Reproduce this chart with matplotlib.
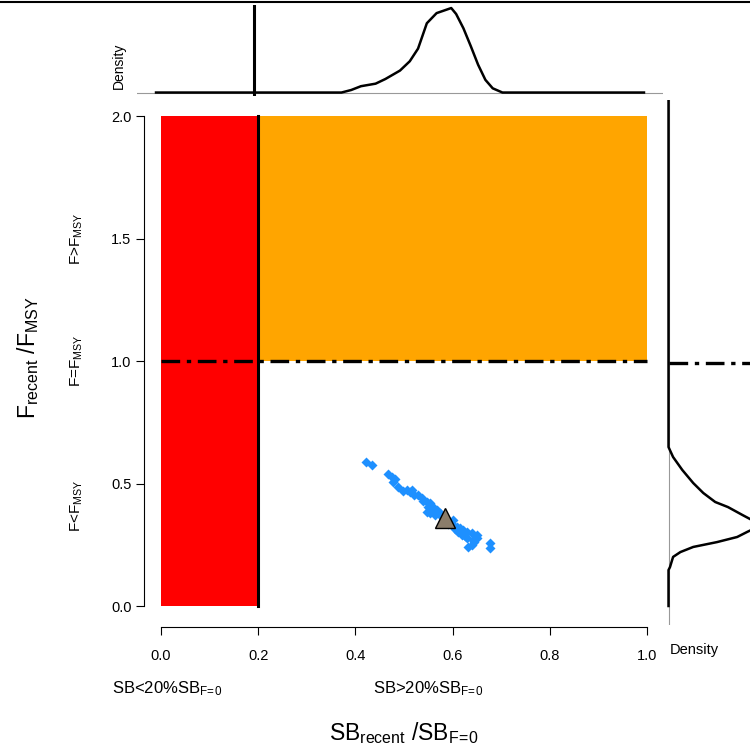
import numpy as np
import matplotlib.pyplot as plt
from matplotlib.lines import Line2D

plt.rcParams['font.family'] = ['Liberation Sans', 'DejaVu Sans']
plt.rcParams['mathtext.fontset'] = 'custom'
plt.rcParams['mathtext.rm'] = 'Liberation Sans'
plt.rcParams['mathtext.it'] = 'Liberation Sans:italic'

# scatter of SB/SB_F=0 vs F/F_MSY
sb_vals = [0.422, 0.434, 0.467, 0.475, 0.481, 0.477, 0.488, 0.506, 0.512, 0.516,
           0.529, 0.537, 0.547, 0.553, 0.549, 0.560, 0.568, 0.547, 0.553, 0.564,
           0.574, 0.601, 0.595, 0.601, 0.609, 0.615, 0.621, 0.630, 0.640, 0.650,
           0.611, 0.619, 0.630, 0.642, 0.650, 0.632, 0.640, 0.677, 0.677, 0.580,
           0.590, 0.585, 0.540, 0.520, 0.498, 0.605, 0.625, 0.645, 0.560, 0.575]
f_vals = [0.588, 0.576, 0.539, 0.527, 0.518, 0.506, 0.486, 0.473, 0.465, 0.473,
          0.453, 0.441, 0.424, 0.420, 0.404, 0.404, 0.392, 0.384, 0.380, 0.371,
          0.371, 0.351, 0.343, 0.331, 0.322, 0.318, 0.310, 0.302, 0.298, 0.290,
          0.302, 0.290, 0.278, 0.269, 0.278, 0.241, 0.249, 0.257, 0.237, 0.345,
          0.335, 0.352, 0.430, 0.455, 0.470, 0.315, 0.285, 0.262, 0.395, 0.380]
sb_recent = 0.584
f_recent = 0.359

# marginal densities (scaled to peak = 1)
top_x = [0, 0.38, 0.40, 0.42, 0.45, 0.47, 0.50, 0.52, 0.537, 0.555, 0.575, 0.59,
         0.605, 0.615, 0.63, 0.645, 0.66, 0.675, 0.69, 0.71, 1.0]
top_h = [0, 0, 0.03, 0.075, 0.105, 0.16, 0.26, 0.37, 0.52, 0.82, 0.94, 0.97,
         1.0, 0.93, 0.76, 0.55, 0.33, 0.15, 0.05, 0, 0]
right_f = [0.0, 0.148, 0.160, 0.202, 0.222, 0.243, 0.263, 0.284, 0.305, 0.330,
           0.342, 0.374, 0.407, 0.428, 0.465, 0.506, 0.560, 0.613, 0.654, 2.1]
right_h = [0, 0, 0.016, 0.05, 0.13, 0.27, 0.53, 0.75, 0.86, 1.0,
           0.97, 0.81, 0.65, 0.51, 0.38, 0.27, 0.15, 0.05, 0, 0]

W, H = 750, 749
F0 = r'\mathrm{F}\!=\!\mathrm{0}'


def box(x0, y0, x1, y1):
    return [x0 / W, 1 - y1 / H, (x1 - x0) / W, (y1 - y0) / H]


fig = plt.figure(figsize=(7.5, 7.49), dpi=100)

# main panel
ax = fig.add_axes(box(144, 96, 665, 627))
ax.set_xlim((144 - 161) / 486, (665 - 161) / 486)
ax.set_ylim((606 - 627) / 245, (606 - 96) / 245)
ax.fill_between([0, 0.2], 0, 2, color='#FF0000', lw=0)
ax.fill_between([0.2, 1.0], 1, 2, color='#FFA500', lw=0)
ax.plot([0.2, 0.2], [0, 2], color='k', lw=2.2)
ax.plot([0, 1], [1, 1], color='k', lw=2.4, dashes=(5.6, 2, 1.3, 2))
ax.plot(sb_vals, f_vals, 'D', color='#1E90FF', ms=5, mec='none')
ax.plot(sb_recent, f_recent, '^', color='#8B7D6B', ms=14, mec='k', mew=1)
for s in ['top', 'right']:
    ax.spines[s].set_visible(False)
ax.spines['left'].set_bounds(0, 2)
ax.spines['bottom'].set_bounds(0, 1)
ax.set_xticks([0, 0.2, 0.4, 0.6, 0.8, 1.0])
ax.set_yticks([0, 0.5, 1.0, 1.5, 2.0])
ax.set_xticklabels(['0.0', '0.2', '0.4', '0.6', '0.8', '1.0'])
ax.set_yticklabels(['0.0', '0.5', '1.0', '1.5', '2.0'])
ax.tick_params(axis='x', direction='out', length=6, pad=10, labelsize=10.5)
ax.tick_params(axis='y', direction='out', length=6, pad=3, labelsize=10.5)

tr = ax.get_yaxis_transform()
xlab = (77 - 144) / 521
ax.text(xlab, 1.5, r'F>F$_{\mathrm{MSY}}$', rotation=90, ha='center', va='center',
        fontsize=11, transform=tr)
ax.text(xlab, 1.0, r'F=F$_{\mathrm{MSY}}$', rotation=90, ha='center', va='center',
        fontsize=11, transform=tr)
ax.text(xlab, 0.41, r'F<F$_{\mathrm{MSY}}$', rotation=90, ha='center', va='center',
        fontsize=11, transform=tr)
fig.text(28 / W, 1 - 358 / H, r'$\mathrm{F_{recent}\ /F_{MSY}}$', rotation=90,
         ha='center', va='center', fontsize=16.5)
fig.text(167 / W, 1 - 689 / H, 'SB<20%SB$_{' + F0 + '}$', ha='center', va='center',
         fontsize=12)
fig.text(428 / W, 1 - 689 / H, 'SB>20%SB$_{' + F0 + '}$', ha='center', va='center',
         fontsize=12)
fig.text(404 / W, 1 - 733 / H, r'$\mathrm{SB_{recent}\ /SB}_{' + F0 + '}$', ha='center',
         va='center', fontsize=16.5)

# top density panel
axt = fig.add_axes(box(137, 5, 663, 96))
axt.set_xlim(-0.039, 1.039)
axt.set_ylim(-0.041, 1.036)
axt.axhline(0, color='#999999', lw=0.8)
axt.plot(top_x, top_h, color='k', lw=1.8)
axt.axvline(0.2, color='k', lw=2.2)
axt.axis('off')
fig.text(119 / W, 1 - 66 / H, 'Density', rotation=90, ha='center', va='center',
         fontsize=10)

# right density panel
axr = fig.add_axes(box(660, 100, 750, 625))
axr.set_xlim(-0.093, 0.89)
axr.set_ylim((606 - 625) / 243, (606 - 100) / 243)
axr.axvline(0, color='#999999', lw=0.8)
axr.plot(right_h, right_f, color='k', lw=1.8)
axr.plot([0, 0.89], [1, 1], color='k', lw=2.4, dashes=(5.6, 2, 1.3, 2))
axr.axis('off')
fig.text(694 / W, 1 - 650 / H, 'Density', ha='center', va='center', fontsize=10.5)

fig.add_artist(Line2D([0, 1], [1 - 1.5 / H, 1 - 1.5 / H], color='k', lw=1.5))

fig.savefig('out.png', dpi=100)
